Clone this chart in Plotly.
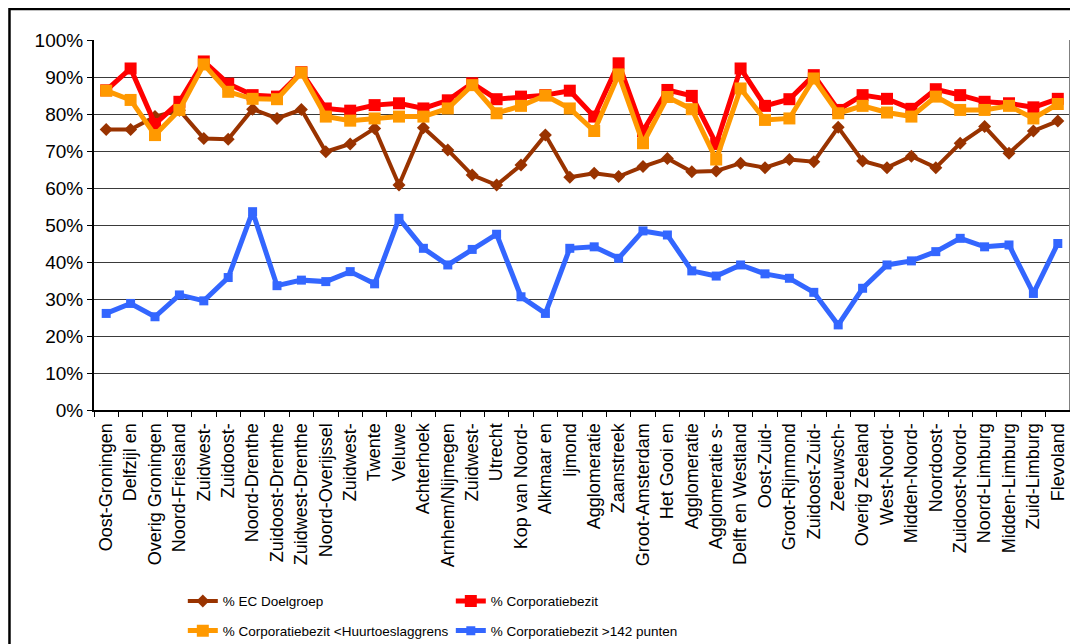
import plotly.graph_objects as go

# COROP regions (full names, unique) and the labels as printed on the axis
regions = [
    "Oost-Groningen", "Delfzijl en omgeving", "Overig Groningen", "Noord-Friesland",
    "Zuidwest-Friesland", "Zuidoost-Friesland", "Noord-Drenthe", "Zuidoost-Drenthe",
    "Zuidwest-Drenthe", "Noord-Overijssel", "Zuidwest-Overijssel", "Twente",
    "Veluwe", "Achterhoek", "Arnhem/Nijmegen", "Zuidwest-Gelderland",
    "Utrecht", "Kop van Noord-Holland", "Alkmaar en omgeving", "Ijmond",
    "Agglomeratie Haarlem", "Zaanstreek", "Groot-Amsterdam", "Het Gooi en Vechtstreek",
    "Agglomeratie Leiden", "Agglomeratie s-Gravenhage", "Delft en Westland", "Oost-Zuid-Holland",
    "Groot-Rijnmond", "Zuidoost-Zuid-Holland", "Zeeuwsch-Vlaanderen", "Overig Zeeland",
    "West-Noord-Brabant", "Midden-Noord-Brabant", "Noordoost-Noord-Brabant", "Zuidoost-Noord-Brabant",
    "Noord-Limburg", "Midden-Limburg", "Zuid-Limburg", "Flevoland",
]
tick_labels = [
    "Oost-Groningen", "Delfzijl en", "Overig Groningen", "Noord-Friesland",
    "Zuidwest-", "Zuidoost-", "Noord-Drenthe", "Zuidoost-Drenthe",
    "Zuidwest-Drenthe", "Noord-Overijssel", "Zuidwest-", "Twente",
    "Veluwe", "Achterhoek", "Arnhem/Nijmegen", "Zuidwest-",
    "Utrecht", "Kop van Noord-", "Alkmaar en", "Ijmond",
    "Agglomeratie", "Zaanstreek", "Groot-Amsterdam", "Het Gooi en",
    "Agglomeratie", "Agglomeratie s-", "Delft en Westland", "Oost-Zuid-",
    "Groot-Rijnmond", "Zuidoost-Zuid-", "Zeeuwsch-", "Overig Zeeland",
    "West-Noord-", "Midden-Noord-", "Noordoost-", "Zuidoost-Noord-",
    "Noord-Limburg", "Midden-Limburg", "Zuid-Limburg", "Flevoland",
]

ec_doelgroep = [
    75.8, 75.8, 79.3, 81.0, 73.4, 73.2, 81.3, 78.8, 81.2, 69.8,
    71.9, 76.1, 60.8, 76.3, 70.3, 63.5, 60.8, 66.2, 74.3, 62.9,
    64.0, 63.1, 65.8, 68.0, 64.4, 64.6, 66.7, 65.5, 67.7, 67.1,
    76.4, 67.3, 65.5, 68.6, 65.5, 72.1, 76.6, 69.4, 75.4, 78.1,
]
corporatiebezit = [
    86.4, 92.3, 77.3, 83.3, 94.2, 88.2, 85.1, 84.7, 91.3, 81.5,
    80.9, 82.4, 82.9, 81.5, 83.7, 88.3, 84.0, 84.7, 85.1, 86.3,
    79.3, 93.7, 75.4, 86.5, 84.9, 71.9, 92.3, 82.2, 84.0, 90.5,
    81.1, 85.1, 84.1, 81.4, 86.7, 85.1, 83.3, 82.9, 81.8, 84.1,
]
corporatiebezit_huurtoeslag = [
    86.3, 83.8, 74.3, 81.1, 93.4, 86.0, 84.1, 84.0, 91.2, 79.3,
    78.2, 78.8, 79.3, 79.3, 81.5, 87.8, 80.2, 82.2, 85.0, 81.5,
    75.4, 90.7, 72.1, 84.6, 81.3, 67.7, 86.9, 78.4, 78.8, 89.6,
    80.2, 82.2, 80.4, 79.3, 84.7, 81.1, 81.1, 82.2, 78.8, 82.7,
]
corporatiebezit_142 = [
    26.1, 28.8, 25.2, 31.1, 29.5, 35.8, 53.6, 33.6, 35.1, 34.7,
    37.4, 34.1, 51.8, 43.7, 39.2, 43.4, 47.5, 30.6, 26.1, 43.7,
    44.1, 41.0, 48.4, 47.3, 37.6, 36.2, 39.2, 36.8, 35.6, 31.8,
    23.0, 32.9, 39.2, 40.3, 42.8, 46.4, 44.1, 44.6, 31.5, 45.0,
]

series = [
    ("% EC Doelgroep", ec_doelgroep, "#993300", "diamond", 10, 4, "legend"),
    ("% Corporatiebezit", corporatiebezit, "#FF0000", "square", 12, 5, "legend"),
    ("% Corporatiebezit <Huurtoeslaggrens", corporatiebezit_huurtoeslag, "#FF9900", "square", 12, 5, "legend2"),
    ("% Corporatiebezit >142 punten", corporatiebezit_142, "#3366FF", "square", 9, 5, "legend2"),
]

fig = go.Figure()
for name, vals, color, sym, msize, lw, leg in series:
    fig.add_trace(go.Scatter(
        x=regions, y=[v / 100 for v in vals], name=name, mode="lines+markers",
        line=dict(color=color, width=lw),
        marker=dict(symbol=sym, size=msize, color=color),
        legend=leg,
    ))

legend_style = dict(
    orientation="h", xanchor="left", yanchor="top", x=0.091,
    font=dict(family="Arial", size=13.5, color="#000000"),
    entrywidth=223, itemwidth=30, bgcolor="rgba(0,0,0,0)",
)

# page body adds 8px, so the figure is 8px smaller than the window
fig.update_layout(
    width=1070, height=636,
    margin=dict(l=86, r=8, t=32, b=234, autoexpand=False),
    paper_bgcolor="white", plot_bgcolor="white",
    font=dict(family="Arial", color="#000000"),
    showlegend=True,
    legend=dict(legend_style, y=-0.475),
    legend2=dict(legend_style, y=-0.555),
    xaxis=dict(
        type="category", tickmode="array", tickvals=regions, ticktext=tick_labels,
        tickangle=-90, tickfont=dict(size=18), tickson="boundaries",
        ticks="outside", ticklen=5, tickcolor="#000000", ticklabelstandoff=4,
        showline=True, linecolor="#000000", linewidth=2,
        showgrid=False, zeroline=False, range=[-0.5, 39.5], automargin=False,
    ),
    yaxis=dict(
        range=[0, 1], dtick=0.1, tickformat=".0%", tickfont=dict(size=19),
        ticks="outside", ticklen=5, tickcolor="#000000",
        showline=True, linecolor="#000000", linewidth=2,
        showgrid=True, gridcolor="#3a3a3a", gridwidth=1, zeroline=False,
        automargin=False,
    ),
    shapes=[
        # right edge of the plot area
        dict(type="line", xref="paper", yref="paper", x0=1, x1=1, y0=0, y1=1,
             line=dict(color="#808080", width=2)),
        # outer chart border
        dict(type="rect", xref="paper", yref="paper", x0=-0.0866, x1=1.02,
             y0=-0.7, y1=1.0838, line=dict(color="#000000", width=2.5)),
    ],
)

fig.write_html("out.html")
